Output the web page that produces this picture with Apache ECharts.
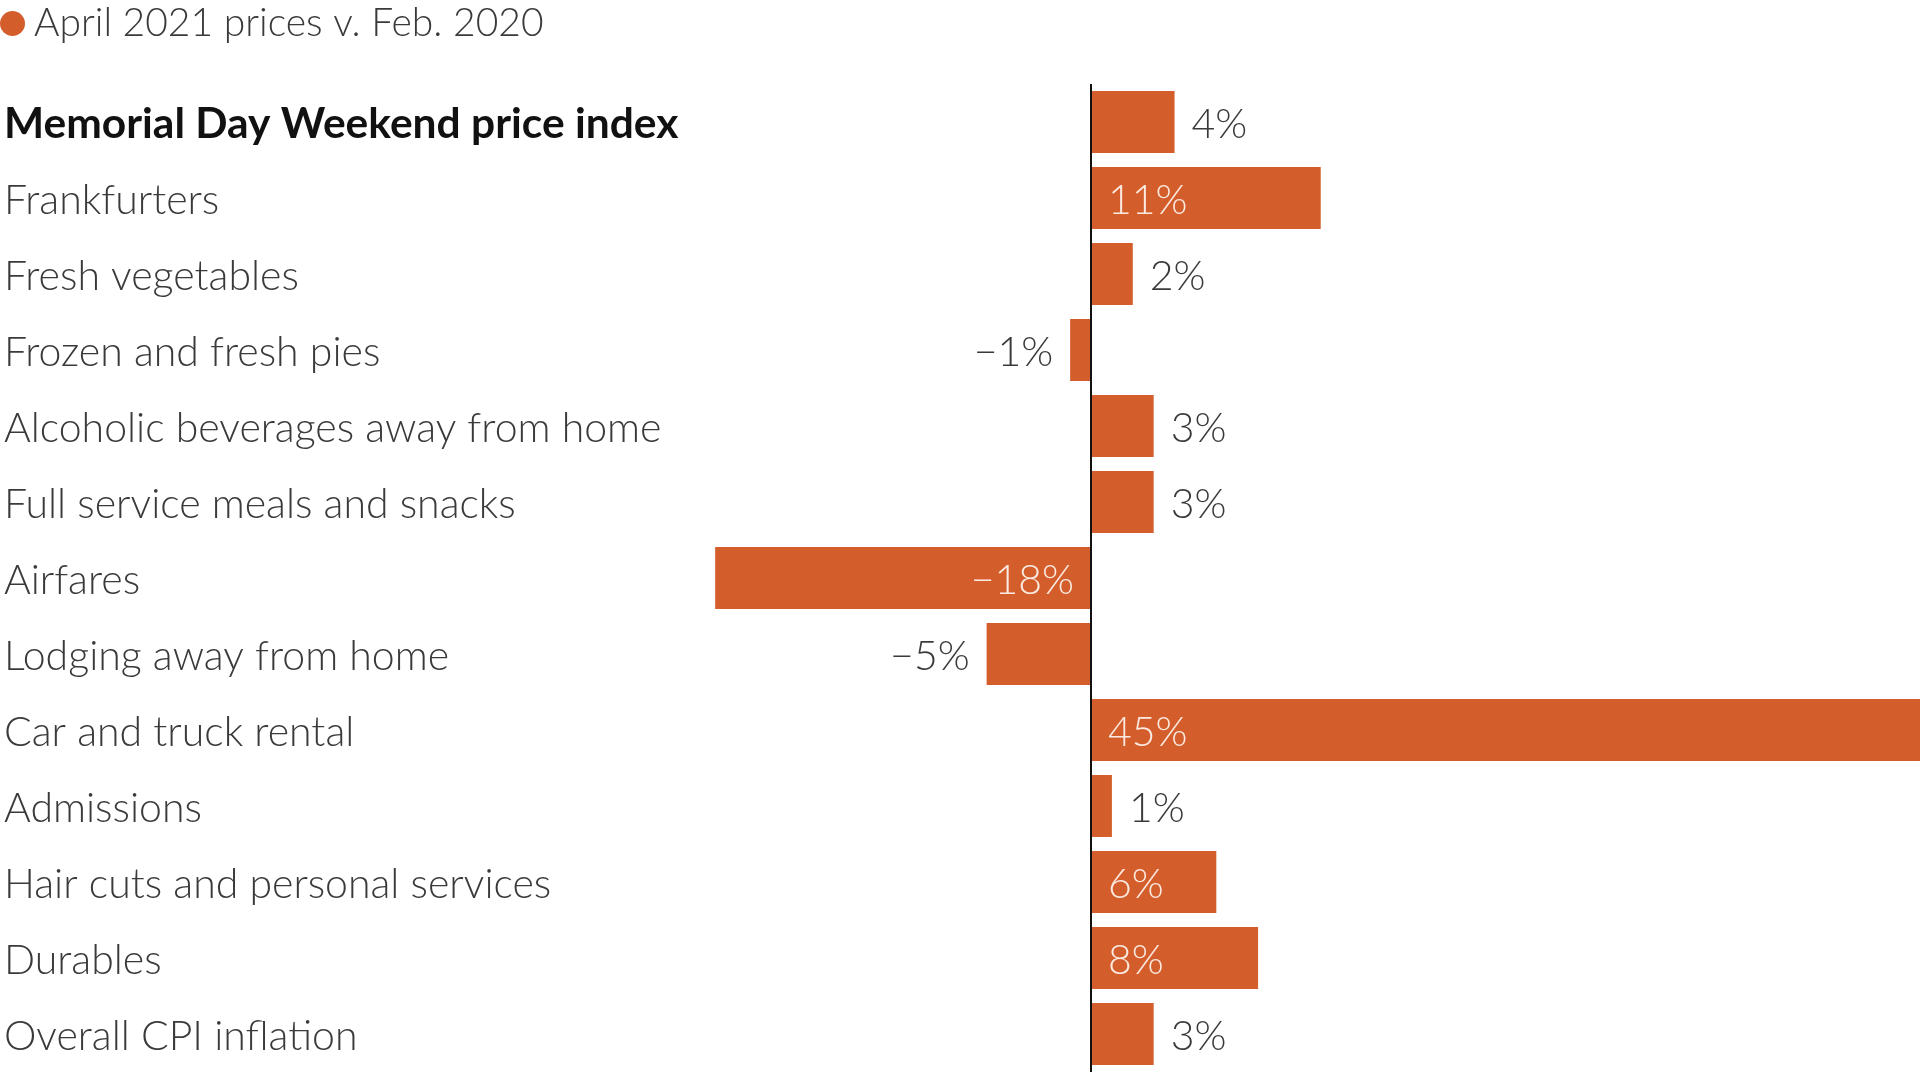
<!DOCTYPE html>
<html>
<head>
<meta charset="utf-8">
<title>Memorial Day Weekend price index</title>
<script src="https://cdn.jsdelivr.net/npm/echarts@6/dist/echarts.min.js"></script>
<style>
	html, body { margin: 0; padding: 0; background: #fff; }
	#main { width: 1920px; height: 1080px; }
</style>
</head>
<body>
<div id="main"></div>
<script>
var seriesName = 'April 2021 prices v. Feb. 2020';

var categories = [
	'Memorial Day Weekend price index',
	'Frankfurters',
	'Fresh vegetables',
	'Frozen and fresh pies',
	'Alcoholic beverages away from home',
	'Full service meals and snacks',
	'Airfares',
	'Lodging away from home',
	'Car and truck rental',
	'Admissions',
	'Hair cuts and personal services',
	'Durables',
	'Overall CPI inflation'
];

var changes = [4, 11, 2, -1, 3, 3, -18, -5, 45, 1, 6, 8, 3];

var barColor = '#d45e2b';
var textColor = '#3a3a3a';
var fontFamily = 'Lato, "Source Sans Pro", "Noto Sans", sans-serif';

function fmt(v) {
	return (v < 0 ? '\u2212' : '') + Math.abs(Math.round(v)) + '%';
}

// short bars get the label outside, long bars inside
var barData = changes.map(function(v) {
	var inside = Math.abs(v) > 5;
	var pos;
	if (v >= 0) {
		pos = inside ? 'insideLeft' : 'right';
	} else {
		pos = inside ? 'insideRight' : 'left';
	}
	return {
		value: v,
		label: {
			position: pos,
			color: inside ? '#fbeae2' : textColor
		}
	};
});

var myChart = echarts.init(document.getElementById('main'));
var option = {
	animation: false,
	backgroundColor: '#fff',
	legend: {
		data: [seriesName],
		left: 0,
		top: 4,
		padding: 0,
		icon: 'circle',
		itemWidth: 25,
		itemHeight: 25,
		textStyle: {
			fontFamily: fontFamily,
			fontWeight: 300,
			fontSize: 39,
			color: textColor,
			padding: [0, 0, 0, 4]
		},
		selectedMode: false
	},
	grid: {
		left: 0,
		right: 0,
		top: 84,
		bottom: 8,
		containLabel: false
	},
	// the car rental bar runs off the right edge, as in the original
	xAxis: {
		type: 'value',
		min: -52.25,
		max: 39.7,
		show: false
	},
	yAxis: {
		type: 'category',
		data: categories,
		inverse: true,
		axisLine: { show: false },
		axisTick: { show: false },
		splitLine: { show: false },
		axisLabel: {
			inside: true,
			margin: 4,
			align: 'left',
			color: textColor,
			fontFamily: fontFamily,
			fontWeight: 300,
			fontSize: 41,
			padding: [5, 0, 0, 0],
			formatter: function(value, index) {
				return index === 0 ? '{b|' + value + '}' : value;
			},
			rich: {
				b: {
					fontFamily: fontFamily,
					fontWeight: 'bold',
					fontSize: 42.5,
					color: '#111'
				}
			}
		}
	},
	series: [{
		name: seriesName,
		type: 'bar',
		data: barData,
		barWidth: 62,
		clip: true,
		itemStyle: { color: barColor },
		label: {
			show: true,
			distance: 17,
			offset: [0, 2.5],
			fontFamily: fontFamily,
			fontWeight: 300,
			fontSize: 41,
			formatter: function(p) {
				return fmt(p.value);
			}
		},
		markLine: {
			silent: true,
			symbol: ['none', 'none'],
			label: { show: false },
			lineStyle: { color: '#111', width: 2, type: 'solid' },
			data: [{ xAxis: 0 }]
		}
	}]
};
myChart.setOption(option);

window.onresize = function() {
	myChart.resize();
};
</script>
</body>
</html>
